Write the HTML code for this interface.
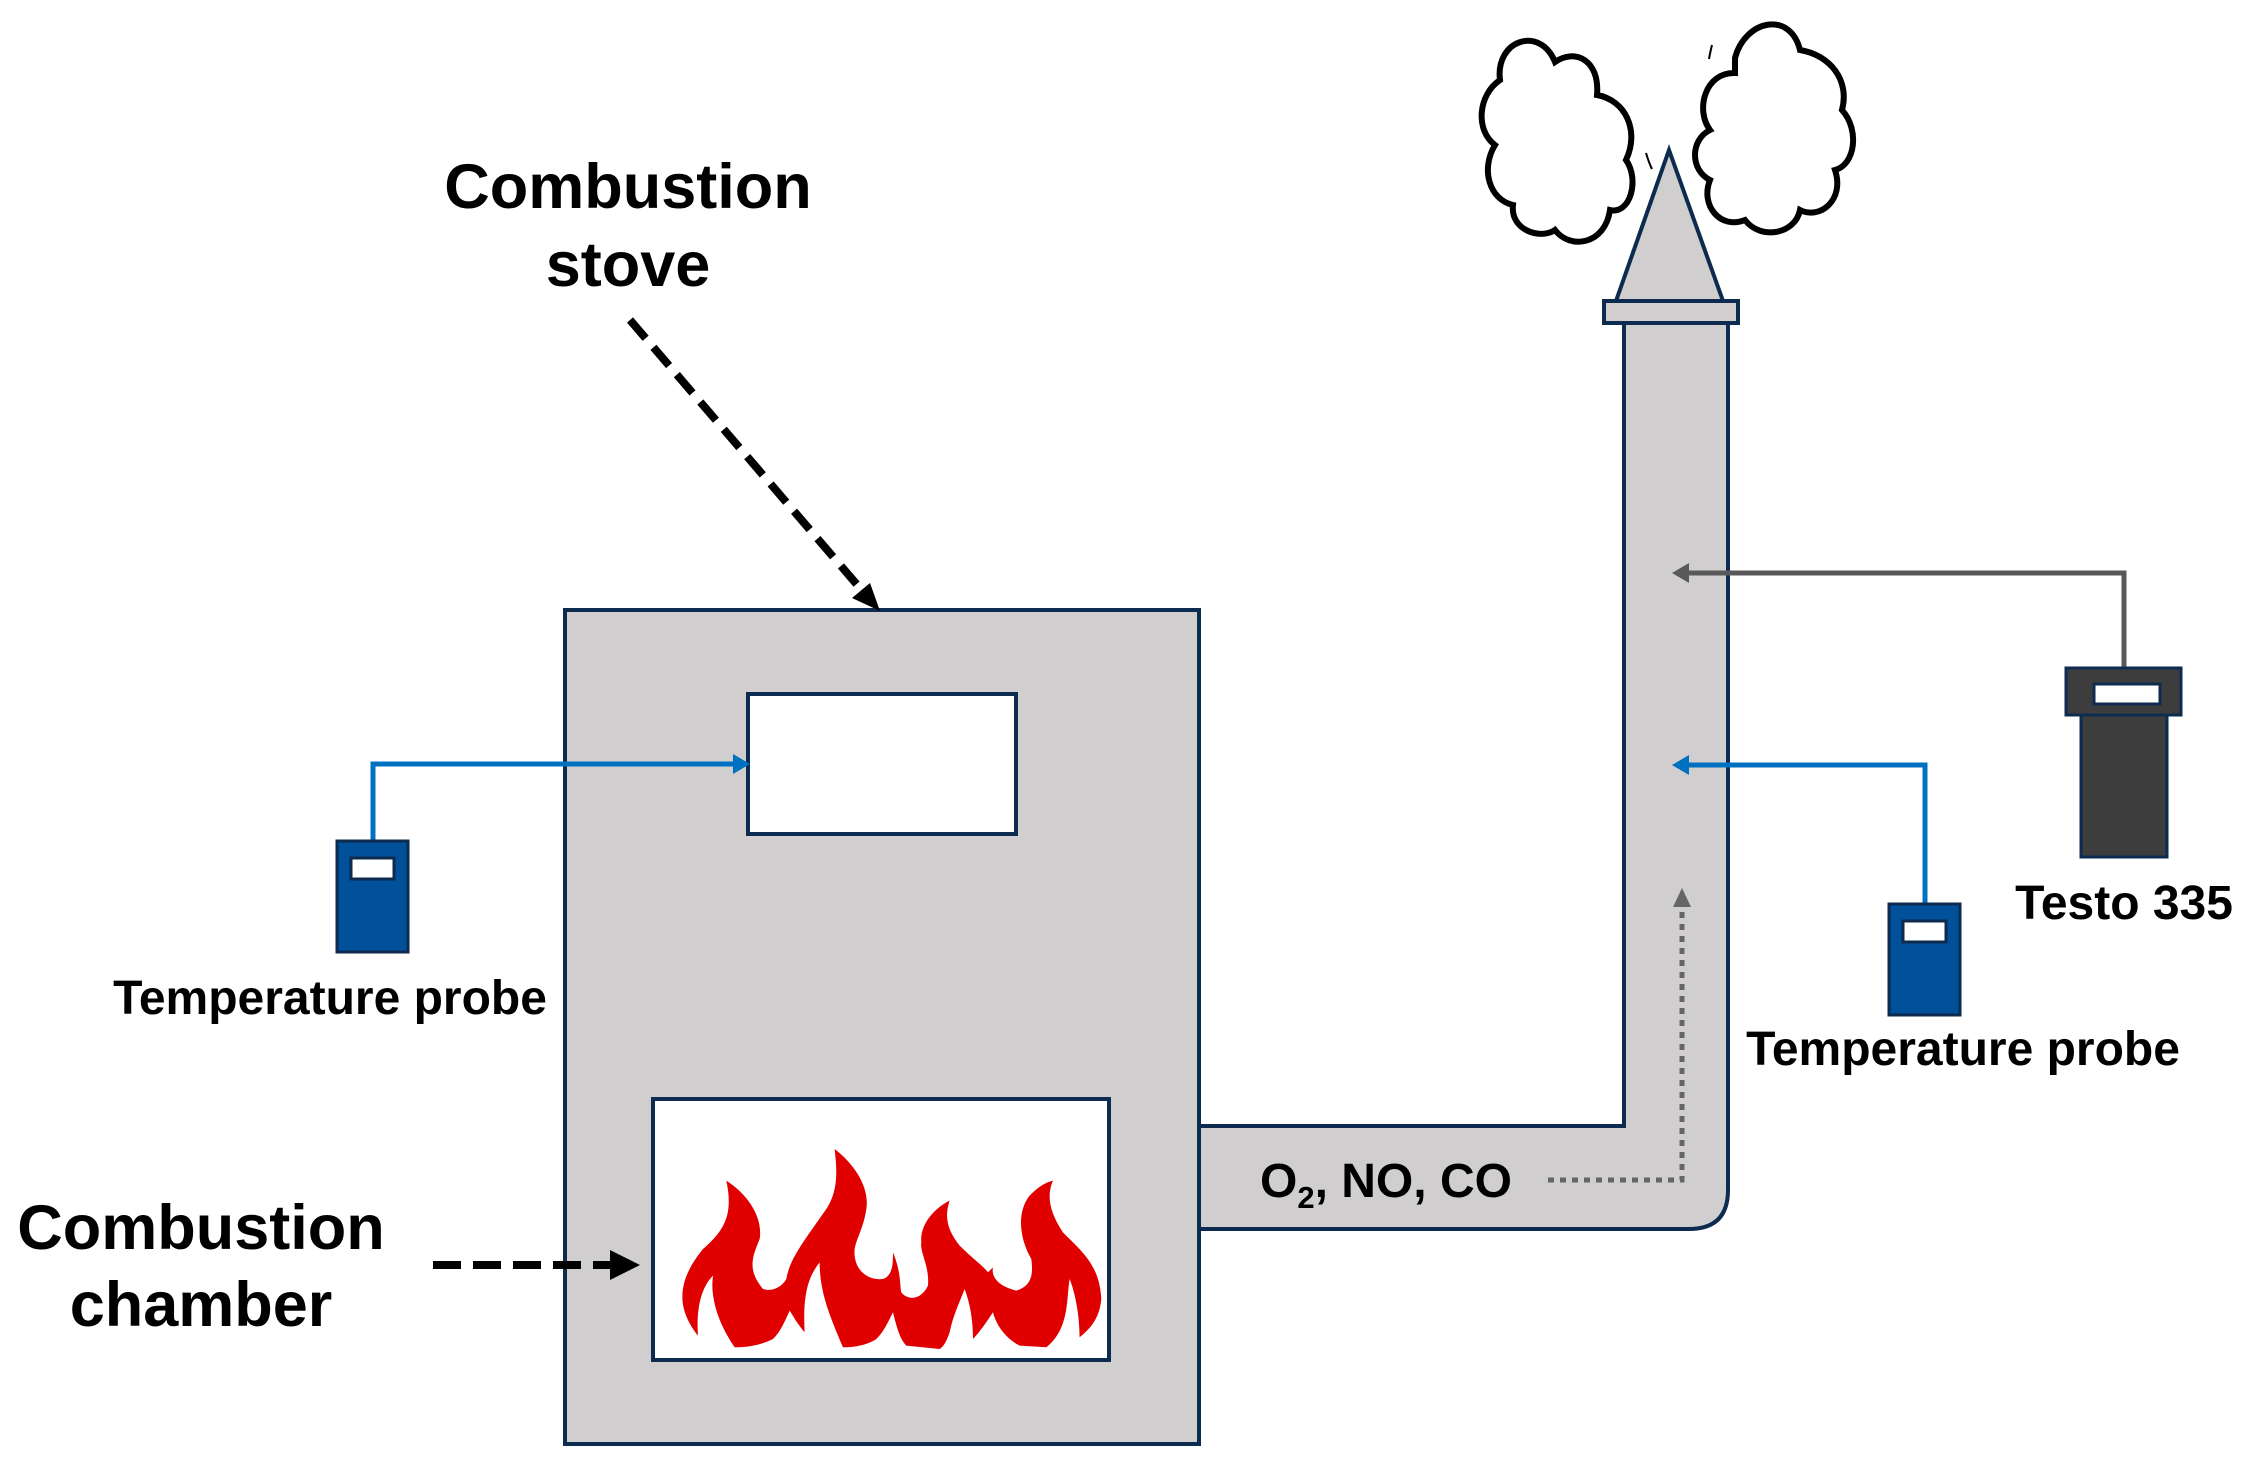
<!DOCTYPE html>
<html><head><meta charset="utf-8"><style>
html,body{margin:0;padding:0;background:#fff}
svg{display:block}
text{font-family:"Liberation Sans",sans-serif;font-weight:bold;fill:#000}
</style></head><body>
<svg width="2241" height="1464" viewBox="0 0 2241 1464" xmlns="http://www.w3.org/2000/svg">
<!-- clouds -->
<g fill="#fff" stroke="#000" stroke-width="6">
<path d="M1500,80 C1495,40 1540,25 1555,62 C1575,48 1600,60 1597,95 C1625,100 1640,130 1626,160 C1640,180 1630,215 1610,210 C1605,245 1570,250 1555,230 C1540,240 1510,230 1513,205 C1490,200 1480,170 1495,145 C1475,130 1478,95 1500,80 Z"/>
<path d="M1735,58 C1745,20 1790,10 1800,50 C1830,55 1850,80 1842,110 C1860,130 1855,165 1835,170 C1845,200 1820,220 1800,210 C1795,235 1760,240 1745,220 C1720,230 1700,205 1710,180 C1690,170 1690,140 1710,130 C1695,110 1705,72 1735,73 Z"/>
</g>
<path d="M1646,153 q3,10 6,16" stroke="#000" stroke-width="2" fill="none"/>
<path d="M1712,45 q-2,8 -3,14" stroke="#000" stroke-width="2" fill="none"/>
<!-- chimney -->
<polygon points="1669,150 1616,301 1723,301" fill="#d0cecf" stroke="#0d2b4e" stroke-width="4"/>
<rect x="1604" y="301" width="134" height="22" fill="#d0cecf" stroke="#0d2b4e" stroke-width="4"/>
<!-- pipe -->
<path d="M1199,1126 L1624,1126 L1624,323 L1728,323 L1728,1190 Q1728,1229 1689,1229 L1199,1229 Z" fill="#d0cecf" stroke="#0d2b4e" stroke-width="4"/>
<!-- stove -->
<rect x="565" y="610" width="634" height="834" fill="#d0cecf" stroke="#0d2b4e" stroke-width="4"/>
<rect x="748" y="694" width="268" height="140" fill="#fff" stroke="#0d2b4e" stroke-width="4"/>
<rect x="653" y="1099" width="456" height="261" fill="#fff" stroke="#0d2b4e" stroke-width="4"/>
<!-- flames -->
<g transform="translate(653,1099) scale(0.3333)">
<path fill="#e00000" d="M135,710 C80,640 60,560 150,450 C220,390 240,340 220,245 C290,290 330,360 320,420 C300,470 280,510 330,570 C360,580 390,560 400,540 C410,480 450,430 520,330 C560,270 550,200 545,150 C610,200 650,270 640,330 C630,400 600,430 605,470 C610,520 650,545 690,540 C720,530 720,490 720,460 C745,520 740,560 745,580 C760,600 800,610 825,560 C830,500 800,460 805,430 C800,380 840,330 890,305 C875,350 880,390 920,440 C960,480 990,500 1005,520 L1020,505 C1015,530 1030,560 1090,575 C1140,560 1140,520 1135,480 C1100,420 1090,340 1130,290 C1160,260 1180,250 1200,245 C1180,290 1190,340 1230,400 C1290,460 1340,500 1345,600 C1340,660 1310,690 1280,715 C1280,660 1270,590 1250,540 C1240,600 1250,690 1180,745 L1100,740 C1060,720 1030,680 1020,640 C1000,670 980,700 960,720 C960,660 950,610 935,570 C920,610 900,650 890,700 C880,730 870,745 860,750 L760,740 C740,720 730,680 720,640 C700,680 690,700 670,720 C640,740 600,745 570,745 C530,650 500,580 500,490 C460,540 450,600 455,700 C430,670 420,650 410,635 C390,680 380,700 360,720 C320,740 280,745 245,745 C200,680 170,600 180,530 C140,570 130,640 135,710 Z"/>
</g>
<!-- dashed arrows -->
<line x1="630" y1="320" x2="865" y2="594" stroke="#000" stroke-width="8" stroke-dasharray="24,12"/>
<polygon points="880,611 852,598 870,583" fill="#000"/>
<line x1="433" y1="1265" x2="615" y2="1265" stroke="#000" stroke-width="8" stroke-dasharray="28,12"/>
<polygon points="640,1265 610,1250 610,1280" fill="#000"/>
<!-- left probe -->
<polyline points="373,841 373,764 738,764" fill="none" stroke="#0070c0" stroke-width="5"/>
<polygon points="750,764 733,754 733,774" fill="#0070c0"/>
<rect x="337" y="841" width="71" height="111" fill="#00509a" stroke="#0d2b4e" stroke-width="3"/>
<rect x="351" y="858" width="43" height="21" fill="#fff" stroke="#0d2b4e" stroke-width="3"/>
<!-- right probe -->
<polyline points="1925,904 1925,765 1684,765" fill="none" stroke="#0070c0" stroke-width="5"/>
<polygon points="1672,765 1689,755 1689,775" fill="#0070c0"/>
<rect x="1889" y="904" width="71" height="111" fill="#00509a" stroke="#0d2b4e" stroke-width="3"/>
<rect x="1903" y="921" width="43" height="21" fill="#fff" stroke="#0d2b4e" stroke-width="3"/>
<!-- testo -->
<polyline points="2124,668 2124,573 1684,573" fill="none" stroke="#595959" stroke-width="5"/>
<polygon points="1672,573 1689,563 1689,583" fill="#595959"/>
<rect x="2081" y="713" width="86" height="144" fill="#3d3d3d" stroke="#0d2b4e" stroke-width="3"/>
<rect x="2066" y="668" width="115" height="47" fill="#3d3d3d" stroke="#0d2b4e" stroke-width="3"/>
<rect x="2094" y="684" width="66" height="20" fill="#fff" stroke="#0d2b4e" stroke-width="3"/>
<!-- dotted -->
<polyline points="1548,1180 1682,1180 1682,905" fill="none" stroke="#666" stroke-width="5" stroke-dasharray="6,6"/>
<polygon points="1682,888 1673,907 1691,907" fill="#666"/>
<!-- text -->
<text x="628" y="208" font-size="63" text-anchor="middle">Combustion</text>
<text x="628" y="286" font-size="63" text-anchor="middle">stove</text>
<text x="201" y="1249" font-size="63" text-anchor="middle">Combustion</text>
<text x="201" y="1326" font-size="63" text-anchor="middle">chamber</text>
<text x="330" y="1014" font-size="48" text-anchor="middle">Temperature probe</text>
<text x="1963" y="1065" font-size="48" text-anchor="middle">Temperature probe</text>
<text x="2124" y="919" font-size="48" text-anchor="middle">Testo 335</text>
<text x="1260" y="1197" font-size="48">O<tspan font-size="31" dy="11">2</tspan><tspan dy="-11">, NO, CO</tspan></text>
</svg>
</body></html>
